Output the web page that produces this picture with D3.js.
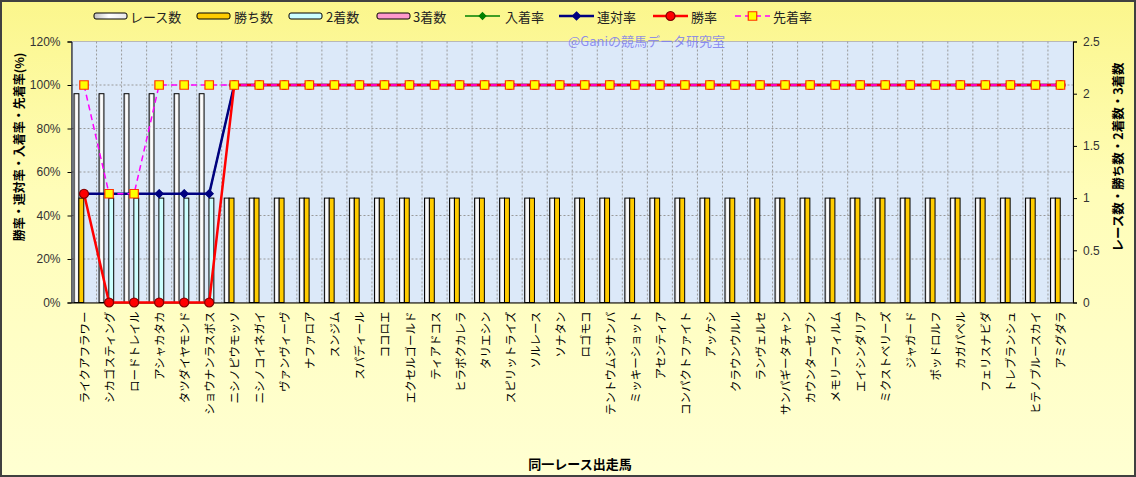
<!doctype html>
<html lang="ja">
<head>
<meta charset="utf-8">
<script src="https://d3js.org/d3.v7.min.js"></script>
<style>
  body { margin: 0; background: #fff; }
  svg { display: block; font-family: "Noto Sans CJK JP", sans-serif; }
</style>
</head>
<body>
<div id="chart"></div>
<script>
// ---- data ----
const horses = ["ライクアフラワー","シカゴスティング","ロードトレイル","アシャカタカ","タツダイヤモンド",
  "ショウナンラスボス","ニシノピウモッソ","ニシノコイネガイ","ヴァンヴィーヴ","ナファロア",
  "スンジム","スパディール","ココロエ","エクセルゴールド","ティアドコス",
  "ヒラボクカレラ","タリエシン","スピリットライズ","ソルレース","ソナタン",
  "ロゴモコ","テントウムシサンバ","ミッキーショット","アセンティア","コンパクトファイト",
  "アッケシ","クラウンウルル","ランヴェルセ","サンパギータチャン","カウンターセブン",
  "メモリーフィルム","エイシンダリア","ミクストベリーズ","ジャガード","ポッドロルフ",
  "カガパペル","フェリスナビダ","トレブランシュ","ヒテノブルースカイ","アミグダラ"];

const races   = [2,2,2,2,2,2,1,1,1,1, 1,1,1,1,1,1,1,1,1,1, 1,1,1,1,1,1,1,1,1,1, 1,1,1,1,1,1,1,1,1,1];
const wins    = [1,0,0,0,0,0,1,1,1,1, 1,1,1,1,1,1,1,1,1,1, 1,1,1,1,1,1,1,1,1,1, 1,1,1,1,1,1,1,1,1,1];
const seconds = [0,1,1,1,1,1,0,0,0,0, 0,0,0,0,0,0,0,0,0,0, 0,0,0,0,0,0,0,0,0,0, 0,0,0,0,0,0,0,0,0,0];
const thirds  = [0,0,0,0,0,0,0,0,0,0, 0,0,0,0,0,0,0,0,0,0, 0,0,0,0,0,0,0,0,0,0, 0,0,0,0,0,0,0,0,0,0];

// rates in %
const placeRate  = [50,50,50,50,50,50,100,100,100,100, 100,100,100,100,100,100,100,100,100,100, 100,100,100,100,100,100,100,100,100,100, 100,100,100,100,100,100,100,100,100,100];
const rentaiRate = [50,50,50,50,50,50,100,100,100,100, 100,100,100,100,100,100,100,100,100,100, 100,100,100,100,100,100,100,100,100,100, 100,100,100,100,100,100,100,100,100,100];
const winRate    = [50,0,0,0,0,0,100,100,100,100, 100,100,100,100,100,100,100,100,100,100, 100,100,100,100,100,100,100,100,100,100, 100,100,100,100,100,100,100,100,100,100];
const aheadRate  = [100,50,50,100,100,100,100,100,100,100, 100,100,100,100,100,100,100,100,100,100, 100,100,100,100,100,100,100,100,100,100, 100,100,100,100,100,100,100,100,100,100];

const leftTicks  = [0,20,40,60,80,100,120];
const rightTicks = [0,0.5,1,1.5,2,2.5];

// ---- layout ----
const W = 1136, H = 477;
const plot = {l: 71.5, r: 1073, t: 41.5, b: 302.5};

const svg = d3.select('#chart').append('svg').attr('width', W).attr('height', H);
const defs = svg.append('defs');

const bgGrad = defs.append('linearGradient').attr('id','bg').attr('x1',0).attr('y1',0).attr('x2',0).attr('y2',1);
bgGrad.append('stop').attr('offset','0%').attr('stop-color','#fbf68c');
bgGrad.append('stop').attr('offset','40%').attr('stop-color','#fffdb8');
bgGrad.append('stop').attr('offset','100%').attr('stop-color','#ffffd2');

const raceGrad = defs.append('linearGradient').attr('id','raceg').attr('x1',0).attr('y1',0).attr('x2',1).attr('y2',0);
raceGrad.append('stop').attr('offset','0%').attr('stop-color','#c0c0c0');
raceGrad.append('stop').attr('offset','45%').attr('stop-color','#ffffff');
raceGrad.append('stop').attr('offset','100%').attr('stop-color','#e8e8e8');

svg.append('rect').attr('x',1).attr('y',1).attr('width',W-2).attr('height',H-2)
  .attr('fill','url(#bg)').attr('stroke','#404040').attr('stroke-width',2);

// plot area
svg.append('rect').attr('x',plot.l).attr('y',plot.t).attr('width',plot.r-plot.l).attr('height',plot.b-plot.t)
  .attr('fill','#dce9f9').attr('stroke','#b8b8b8');

const x = d3.scaleBand().domain(horses).range([plot.l, plot.r]);
const yL = d3.scaleLinear().domain([0,120]).range([plot.b, plot.t]);
const yR = d3.scaleLinear().domain([0,2.5]).range([plot.b, plot.t]);

const barKeys = ['races','wins','seconds','thirds'];
const xi = d3.scaleBand().domain(barKeys).range([x.bandwidth()*0.1, x.bandwidth()*0.88]);

// grid
const grid = svg.append('g').attr('stroke','#9a9a9a').attr('stroke-dasharray','2,2').attr('stroke-width',1);
horses.forEach((h,i) => {
  if (i === 0) return;
  grid.append('line').attr('x1',x(h)).attr('x2',x(h)).attr('y1',plot.t).attr('y2',plot.b);
});
leftTicks.forEach(t => {
  if (t === 0 || t === 120) return;
  grid.append('line').attr('x1',plot.l).attr('x2',plot.r).attr('y1',yL(t)).attr('y2',yL(t));
});

// bars
const barSeries = [
  {key:'races', vals: races, fill:'url(#raceg)'},
  {key:'wins', vals: wins, fill:'#ffcc00'},
  {key:'seconds', vals: seconds, fill:'#ccffff'},
  {key:'thirds', vals: thirds, fill:'#ff99cc'}
];
barSeries.forEach(s => {
  svg.append('g').selectAll('rect')
    .data(horses.map((h,i) => ({h, v: s.vals[i]})).filter(d => d.v > 0))
    .enter().append('rect')
    .attr('x', d => x(d.h) + xi(s.key))
    .attr('y', d => yR(d.v))
    .attr('width', xi.bandwidth())
    .attr('height', d => yR(0) - yR(d.v))
    .attr('fill', s.fill)
    .attr('stroke','#000').attr('stroke-width',1);
});

// axes
const axL = svg.append('g').attr('transform','translate(' + plot.l + ',0)')
  .call(d3.axisLeft(yL).tickValues(leftTicks).tickSize(4).tickFormat(d => d + '%'));
const axR = svg.append('g').attr('transform','translate(' + plot.r + ',0)')
  .call(d3.axisRight(yR).tickValues(rightTicks).tickSize(4).tickFormat(d => d));
const axB = svg.append('g').attr('transform','translate(0,' + plot.b + ')')
  .call(d3.axisBottom(x).tickSize(0).tickFormat(''));
[axL, axR, axB].forEach(a => {
  a.select('.domain').attr('stroke','#000');
  a.selectAll('.tick line').attr('stroke','#000');
  a.selectAll('text').attr('font-size',12).attr('fill','#333')
    .attr('font-family','"Liberation Sans", Arial, sans-serif');
});
axL.selectAll('text').attr('x',-11);
axR.selectAll('text').attr('x',10);

// x labels (rotated)
svg.append('g').selectAll('text').data(horses).enter().append('text')
  .attr('transform', d => 'translate(' + (x(d) + x.bandwidth()/2) + ',' + (plot.b + 9) + ') rotate(-90)')
  .attr('text-anchor','end').attr('dominant-baseline','central')
  .attr('font-size',11.5).attr('fill','#000')
  .text(d => d);

// lines
const lineSeries = [
  {vals: placeRate, color:'#008000', width:1.5, dash:null, marker:'diamond', msize:28, mfill:'#008000', mstroke:'#008000'},
  {vals: rentaiRate, color:'#000080', width:2.5, dash:null, marker:'diamond', msize:40, mfill:'#000080', mstroke:'#000080'},
  {vals: winRate, color:'#ff0000', width:2.5, dash:null, marker:'circle', msize:64, mfill:'#ff0000', mstroke:'#800000'},
  {vals: aheadRate, color:'#ff00ff', width:1.5, dash:'6,4', marker:'square', msize:72, mfill:'#ffff00', mstroke:'#ff3300'}
];
const symbolOf = m => m === 'diamond' ? d3.symbolDiamond2 : m === 'circle' ? d3.symbolCircle : d3.symbolSquare;
const cx = h => x(h) + x.bandwidth()/2;

lineSeries.forEach(s => {
  const pts = horses.map((h,i) => [cx(h), yL(s.vals[i])]);
  svg.append('path').attr('d', d3.line()(pts))
    .attr('fill','none').attr('stroke', s.color).attr('stroke-width', s.width)
    .attr('stroke-dasharray', s.dash);
  svg.append('g').selectAll('path').data(pts).enter().append('path')
    .attr('transform', d => 'translate(' + d[0] + ',' + d[1] + ')')
    .attr('d', d3.symbol().type(symbolOf(s.marker)).size(s.msize))
    .attr('fill', s.mfill).attr('stroke', s.mstroke).attr('stroke-width', 1.2);
});

// watermark
svg.append('text').attr('x',568).attr('y',46).attr('font-size',13)
  .attr('fill','#7c7cf0').attr('fill-opacity',0.85).text('@Ganiの競馬データ研究室');

// legend
const legend = [
  {label:'レース数', type:'bar', fill:'url(#raceg)', sx:94, tx:130},
  {label:'勝ち数', type:'bar', fill:'#ffcc00', sx:197, tx:234},
  {label:'2着数', type:'bar', fill:'#ccffff', sx:289, tx:326},
  {label:'3着数', type:'bar', fill:'#ff99cc', sx:377, tx:413},
  {label:'入着率', type:'line', s: lineSeries[0], sx:465, tx:505},
  {label:'連対率', type:'line', s: lineSeries[1], sx:559, tx:597},
  {label:'勝率', type:'line', s: lineSeries[2], sx:653, tx:691},
  {label:'先着率', type:'line', s: lineSeries[3], sx:735, tx:773}
];
const ly = 16;
const lg = svg.append('g');
legend.forEach(it => {
  if (it.type === 'bar') {
    lg.append('rect').attr('x', it.sx).attr('y', ly-3).attr('width',33).attr('height',6)
      .attr('rx',2).attr('fill', it.fill).attr('stroke','#000').attr('stroke-width',1);
  } else {
    lg.append('line').attr('x1', it.sx).attr('x2', it.sx+35).attr('y1', ly).attr('y2', ly)
      .attr('stroke', it.s.color).attr('stroke-width', it.s.width === 2.5 ? 2.5 : 1.5)
      .attr('stroke-dasharray', it.s.dash);
    lg.append('path').attr('transform','translate(' + (it.sx+17.5) + ',' + ly + ')')
      .attr('d', d3.symbol().type(symbolOf(it.s.marker)).size(it.s.msize))
      .attr('fill', it.s.mfill).attr('stroke', it.s.mstroke).attr('stroke-width',1.2);
  }
  lg.append('text').attr('x', it.tx).attr('y', ly).attr('dominant-baseline','central')
    .attr('font-size',13).attr('fill','#222').text(it.label);
});

// axis titles
svg.append('text').attr('transform','translate(18,147) rotate(-90)')
  .attr('text-anchor','middle').attr('dominant-baseline','central')
  .attr('font-size',12).attr('font-weight','bold').text('勝率・連対率・入着率・先着率(%)');
svg.append('text').attr('transform','translate(1117,157) rotate(-90)')
  .attr('text-anchor','middle').attr('dominant-baseline','central')
  .attr('font-size',12.5).attr('font-weight','bold').text('レース数・勝ち数・2着数・3着数');
svg.append('text').attr('x',580).attr('y',463).attr('text-anchor','middle')
  .attr('dominant-baseline','central')
  .attr('font-size',13).attr('font-weight','bold').text('同一レース出走馬');
</script>
</body>
</html>
